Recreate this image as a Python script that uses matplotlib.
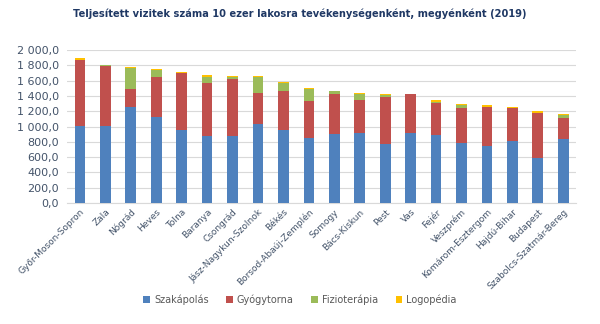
import numpy as np
import matplotlib.pyplot as plt
from matplotlib.ticker import FuncFormatter

# Megyék (sorrend a diagram szerint)
megyek = ['Győr-Moson-Sopron', 'Zala', 'Nógrád', 'Heves', 'Tolna', 'Baranya',
          'Csongrád', 'Jász-Nagykun-Szolnok', 'Békés', 'Borsod-Abaúj-Zemplén',
          'Somogy', 'Bács-Kiskun', 'Pest', 'Vas', 'Fejér', 'Veszprém',
          'Komárom-Esztergom', 'Hajdú-Bihar', 'Budapest', 'Szabolcs-Szatmár-Bereg']

szakapolas = [1010, 1010, 1260, 1120, 955, 880, 870, 1035, 955, 850,
              905, 910, 775, 920, 890, 785, 750, 815, 595, 835]
gyogytorna = [860, 780, 230, 520, 740, 690, 750, 400, 515, 480,
              520, 435, 610, 505, 420, 460, 510, 425, 580, 275]
fizioterapia = [0, 10, 270, 100, 0, 70, 20, 210, 95, 160,
                35, 80, 25, 0, 10, 30, 0, 0, 0, 35]
logopedia = [20, 5, 20, 15, 15, 30, 25, 20, 10, 15,
             5, 15, 15, 5, 20, 15, 20, 20, 25, 15]

sorozatok = [('Szakápolás', szakapolas, '#4F81BD'),
             ('Gyógytorna', gyogytorna, '#C0504D'),
             ('Fizioterápia', fizioterapia, '#9BBB59'),
             ('Logopédia', logopedia, '#FFC000')]

plt.rcParams['font.family'] = ['DejaVu Sans']
szoveg_szin = '#44546A'

fig = plt.figure(figsize=(6.0, 3.24), dpi=100)
ax = fig.add_axes([0.112, 0.373, 0.848, 0.473])

x = np.arange(len(megyek))
alap = np.zeros(len(megyek))
for nev, ertekek, szin in sorozatok:
    ertekek = np.array(ertekek, dtype=float)
    ax.bar(x, ertekek, width=0.42, bottom=alap, color=szin, label=nev,
           edgecolor='none', zorder=3)
    alap += ertekek

ax.set_xlim(-0.5, len(megyek) - 0.5)
ax.set_ylim(0, 2000)
ax.set_yticks(np.arange(0, 2001, 200))


def magyar_formatum(v, pos):
    # szóköz ezres elválasztó, tizedesvessző
    return f'{v:,.1f}'.replace(',', ' ').replace('.', ',')


ax.yaxis.set_major_formatter(FuncFormatter(magyar_formatum))
ax.set_xticks(x)
ax.set_xticklabels(megyek, rotation=45, ha='right', rotation_mode='anchor',
                   fontsize=6.5, color=szoveg_szin)
ax.tick_params(axis='y', labelsize=8, colors=szoveg_szin, length=0, pad=6)
ax.tick_params(axis='x', length=0, pad=3)

ax.grid(axis='y', color='#D9D9D9', linewidth=0.8, zorder=0)
for side in ['top', 'right', 'left']:
    ax.spines[side].set_visible(False)
ax.spines['bottom'].set_color('#D9D9D9')

fig.text(0.5, 0.957, 'Teljesített vizitek száma 10 ezer lakosra tevékenységenként, megyénként (2019)',
         ha='center', va='center', fontsize=7.1, fontweight='bold', color='#1F3864')

fig.legend(loc='center', bbox_to_anchor=(0.5, 0.074), ncol=4, frameon=False,
           fontsize=7, handlelength=0.7, handleheight=0.7, columnspacing=1.8,
           handletextpad=0.4, labelcolor='#595959')

fig.savefig('out.png', dpi=100)
